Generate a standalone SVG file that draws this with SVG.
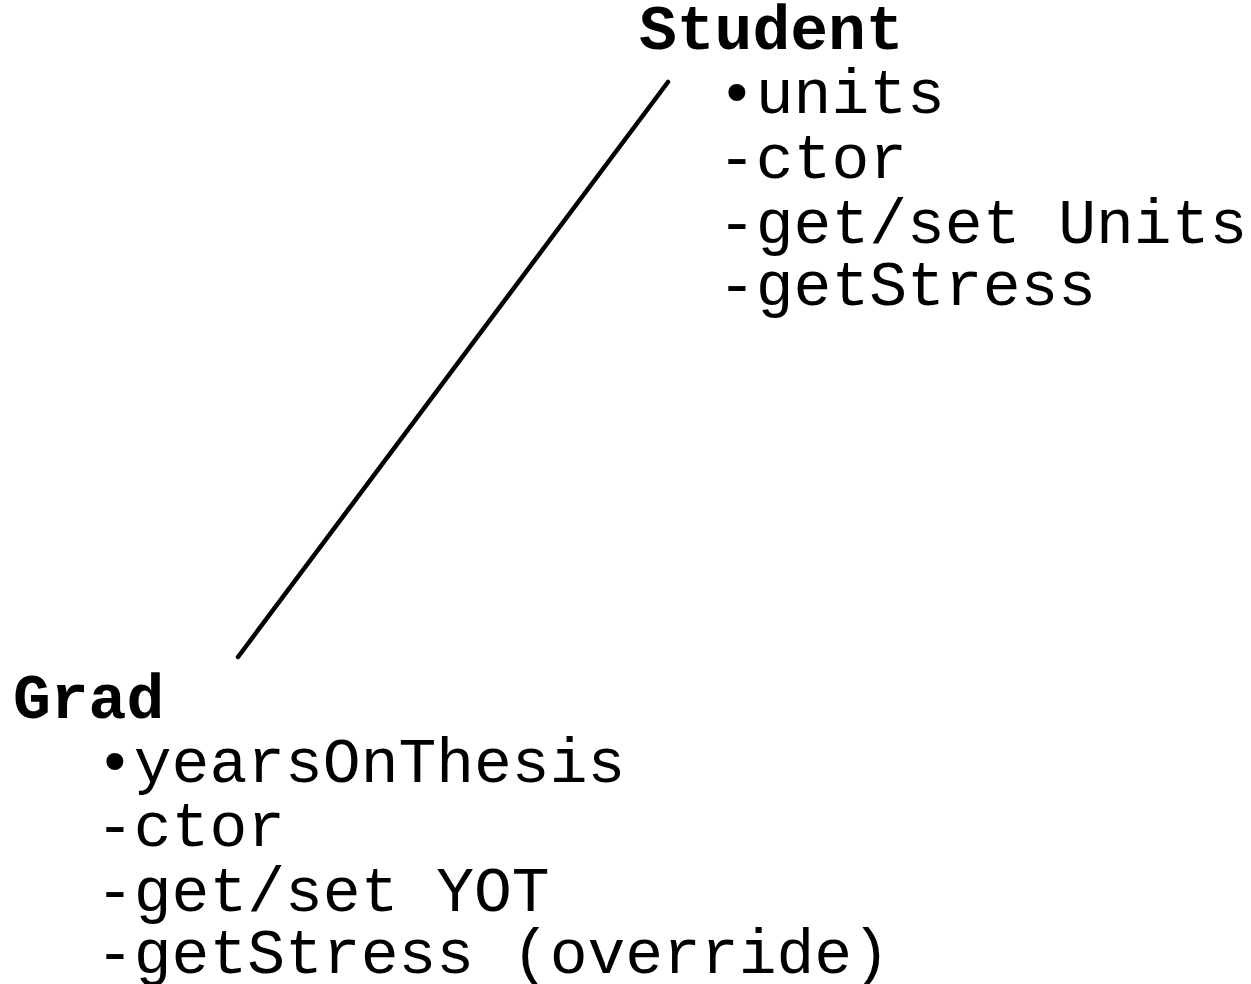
<svg xmlns="http://www.w3.org/2000/svg" width="1251" height="984" viewBox="0 0 1251 984">
<style>
text{font-family:"Liberation Mono","Courier New",monospace;font-size:63px;fill:#000}
.t{font-weight:bold}
</style>
<rect width="1251" height="984" fill="#fff"/>
<g id="connectors">
<line x1="668" y1="82" x2="238" y2="657" stroke="#000" stroke-width="4.5" stroke-linecap="round"/>
</g>
<g id="student">
<text class="t" x="639" y="49">Student</text>
<text x="718" y="113">•units</text>
<text x="718" y="178">-ctor</text>
<text x="718" y="243">-get/set Units</text>
<text x="718" y="305">-getStress</text>
</g>
<g id="grad">
<text class="t" x="13" y="718">Grad</text>
<text x="96" y="782">•yearsOnThesis</text>
<text x="96" y="846">-ctor</text>
<text x="96" y="911">-get/set YOT</text>
<text x="96" y="973">-getStress (override)</text>
</g>
</svg>
